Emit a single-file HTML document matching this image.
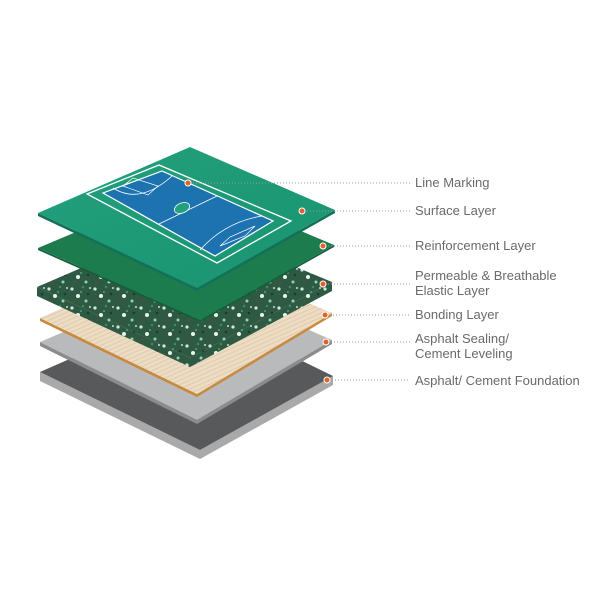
<!DOCTYPE html>
<html><head><meta charset="utf-8"><style>
html,body{margin:0;padding:0;background:#fff;}
svg{display:block}
text{font-family:"Liberation Sans",sans-serif;font-size:13px;fill:#6a6a6a;}
</style></head><body>
<svg width="600" height="600" viewBox="0 0 600 600" xmlns="http://www.w3.org/2000/svg">
<defs>
<pattern id="sp" width="23" height="19" patternUnits="userSpaceOnUse">
<rect width="23" height="19" fill="#2e5a44"/>
<circle cx="3" cy="4" r="1.6" fill="#cfe9df"/>
<circle cx="14" cy="2" r="1.2" fill="#3f8a66"/>
<circle cx="9" cy="11" r="2" fill="#e8f4ef"/>
<circle cx="19" cy="9" r="1.3" fill="#1f3a2d"/>
<circle cx="17" cy="16" r="1.5" fill="#8fd0b7"/>
<circle cx="5" cy="16" r="1.1" fill="#5a4a3a"/>
<circle cx="21" cy="3" r="0.9" fill="#ffffff"/>
<circle cx="12" cy="7" r="1" fill="#4fa27d"/>
</pattern>
<pattern id="st" width="4" height="4" patternUnits="userSpaceOnUse" patternTransform="rotate(-24)">
<rect width="4" height="4" fill="#ecdcc3"/>
<rect width="4" height="1" fill="#dfcbad"/>
</pattern>
<linearGradient id="gt" x1="0" y1="0" x2="1" y2="1">
<stop offset="0" stop-color="#22a07d"/><stop offset="1" stop-color="#1a9370"/></linearGradient>
</defs>

<polygon points="40,372 200,450 333,376 333,385 200,459 40,381" fill="#a9a9a9"/>
<polygon points="40,372 190,306 333,376 200,450" fill="#58595b"/>
<polygon points="40,342 197,420 332,340 332,344 197,424 40,346" fill="#8c8c8c"/>
<polygon points="40,342 190,278 332,340 197,420" fill="#b9babb"/>
<polygon points="40,318 197,394 332,313 332,316 197,397 40,321" fill="#c88a3e"/>
<polygon points="40,318 190,252 332,313 197,394" fill="url(#st)"/>
<polygon points="37,287 190,358 332,282 332,291 190,367 37,296" fill="url(#sp)"/>
<polygon points="37,287 188,222 332,282 190,358" fill="url(#sp)"/>
<polygon points="38,248 200,320 334,245 334,247 200,322 38,250" fill="#155f3c"/>
<polygon points="38,248 190,184 334,245 200,320" fill="#1d7c4e"/>
<polygon points="38,213 197,288 335,210 335,213 197,291 38,216" fill="#137158"/>
<polygon points="38,213 190,147 335,210 197,288" fill="url(#gt)"/>
<polygon points="87,194 159,165 291,221 217,263" fill="none" stroke="#fff" stroke-width="1.3"/>
<polygon points="103,193 162,171 273,221 215,256" fill="#1d72b0" stroke="#fff" stroke-width="1.2"/>
<line x1="159" y1="224" x2="217" y2="196" stroke="#fff" stroke-width="0.8"/>
<ellipse cx="182" cy="208" rx="8" ry="5" transform="rotate(-22 182 208)" fill="#22a07d" stroke="#fff" stroke-width="0.8"/>
<path d="M113,188 Q140,205 172,176" fill="none" stroke="#fff" stroke-width="0.8"/>
<path d="M200,250 Q225,222 262,216" fill="none" stroke="#fff" stroke-width="0.8"/>
<polygon points="123,186 148,195 158,186 133,178" fill="none" stroke="#fff" stroke-width="0.7"/>
<polygon points="220,246 230,237 255,226 245,236" fill="none" stroke="#fff" stroke-width="0.7"/>

<g stroke="#999" stroke-width="1" stroke-dasharray="1,2" fill="none">
<line x1="190" y1="183" x2="410" y2="183"/>
<line x1="304" y1="211" x2="410" y2="211"/>
<line x1="325" y1="246" x2="410" y2="246"/>
<line x1="325" y1="284" x2="410" y2="284"/>
<line x1="327" y1="315" x2="410" y2="315"/>
<line x1="328" y1="342" x2="410" y2="342"/>
<line x1="329" y1="380" x2="410" y2="380"/>
</g>
<g fill="#e2602a" stroke="#fff" stroke-width="1">
<circle cx="188" cy="183" r="3"/>
<circle cx="302" cy="211" r="3"/>
<circle cx="323" cy="246" r="3"/>
<circle cx="323" cy="284" r="3"/>
<circle cx="325" cy="315" r="3"/>
<circle cx="326" cy="342" r="3"/>
<circle cx="327" cy="380" r="3"/>
</g>

<text x="415" y="187">Line Marking</text>
<text x="415" y="215">Surface Layer</text>
<text x="415" y="250">Reinforcement Layer</text>
<text x="415" y="280">Permeable &amp; Breathable</text>
<text x="415" y="295">Elastic Layer</text>
<text x="415" y="319">Bonding Layer</text>
<text x="415" y="343">Asphalt Sealing/</text>
<text x="415" y="358">Cement Leveling</text>
<text x="415" y="385">Asphalt/ Cement Foundation</text>
</svg>
</body></html>
